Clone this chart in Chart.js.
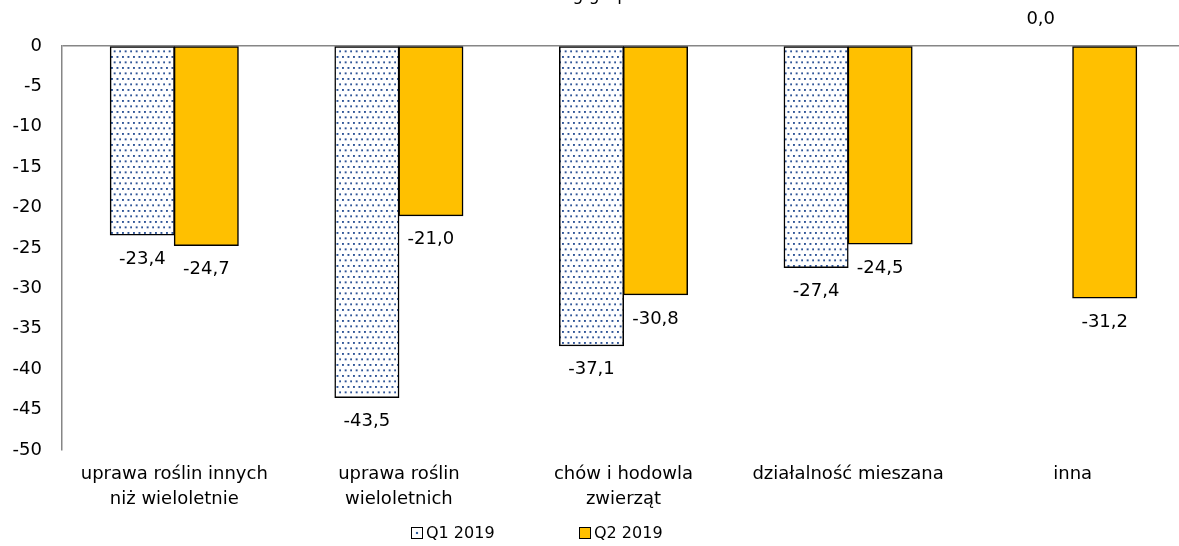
<!DOCTYPE html>
<html>
<head>
<meta charset="utf-8">
<script src="https://cdn.jsdelivr.net/npm/chart.js@4"></script>
<style>
  body { margin: 0; background: #fff; }
  #wrap { position: relative; width: 1179px; height: 546px; overflow: hidden; }
  .leg { position: absolute; top: 523px; font: 16px "DejaVu Sans", sans-serif; color: #000; display: flex; align-items: center; }
  .box { width: 10px; height: 10px; border: 1.5px solid #000; margin-right: 3px; }
  .q1 { background: #fff radial-gradient(circle, #2E5B9A 1.3px, transparent 1.6px); }
  .q2 { background: #FFC000; }
</style>
</head>
<body>
<div id="wrap">
  <canvas id="myChart" width="1185" height="546"></canvas>
  <div class="leg" style="left:411px"><span class="box q1"></span>Q1 2019</div>
  <div class="leg" style="left:579px"><span class="box q2"></span>Q2 2019</div>
</div>
<script>
const categories = [
    ['uprawa roślin innych', 'niż wieloletnie'],
    ['uprawa roślin', 'wieloletnich'],
    ['chów i hodowla', 'zwierząt'],
    ['działalność mieszana'],
    ['inna']
];
const q1Values = [-23.4, -43.5, -37.1, -27.4, 0.0];
const q2Values = [-24.7, -21.0, -30.8, -24.5, -31.2];
const seriesNames = ['Q1 2019', 'Q2 2019'];
const titleText = 'według grup';

var ctx = document.getElementById('myChart').getContext('2d');

// dotted fill like the excel pattern
function dotPattern() {
    const c = document.createElement('canvas');
    c.width = 11;
    c.height = 11;
    const p = c.getContext('2d');
    p.fillStyle = '#ffffff';
    p.fillRect(0, 0, 11, 11);
    p.fillStyle = '#2F5597';
    [[1, 1], [6.5, 1], [3.7, 6.4], [9.2, 6.4]].forEach(d => {
        p.fillRect(d[0], d[1], 1.9, 1.9);
    });
    return ctx.createPattern(c, 'repeat');
}

function fmt(v) {
    return v.toFixed(1).replace('.', ',');
}

const valueLabels = {
    id: 'valueLabels',
    afterDatasetsDraw(chart) {
        const c = chart.ctx;
        c.save();
        c.font = '18px "DejaVu Sans"';
        c.fillStyle = '#000';
        c.textAlign = 'center';
        c.textBaseline = 'middle';
        chart.data.datasets.forEach((ds, i) => {
            chart.getDatasetMeta(i).data.forEach((bar, j) => {
                const v = ds.data[j];
                const y = v < 0 ? bar.y + 24 : bar.y - 27;
                c.fillText(fmt(v), bar.x, y);
            });
        });
        c.restore();
    }
};

// title is cut off at the top of the picture, only descenders show
const cutTitle = {
    id: 'cutTitle',
    afterDraw(chart) {
        const c = chart.ctx;
        c.save();
        c.font = '17px "DejaVu Sans"';
        c.fillStyle = '#000';
        c.textBaseline = 'alphabetic';
        const before = c.measureText('wedłu').width + c.measureText('g').width / 2;
        c.fillText(titleText, 578 - before, 0);
        c.restore();
    }
};

const noZero = (w) => (c) => c.raw === 0 ? 0 : w;

const chart = new Chart(ctx, {
    type: 'bar',
    data: {
        labels: categories,
        datasets: [{
            label: seriesNames[0],
            data: q1Values,
            backgroundColor: dotPattern(),
            borderColor: '#000',
            borderWidth: noZero(1.5),
            borderSkipped: false,
            inflateAmount: noZero(0.5)
        }, {
            label: seriesNames[1],
            data: q2Values,
            backgroundColor: '#FFC000',
            borderColor: '#000',
            borderWidth: noZero(1.5),
            borderSkipped: false,
            inflateAmount: noZero(0.5)
        }]
    },
    options: {
        responsive: false,
        animation: false,
        layout: { padding: { top: 46 } },
        categoryPercentage: 0.57,
        barPercentage: 1,
        plugins: {
            legend: { display: false },
            tooltip: { enabled: false }
        },
        scales: {
            x: {
                grid: { display: false },
                border: { display: false },
                ticks: {
                    color: '#000',
                    padding: 4,
                    maxRotation: 0,
                    font: { family: 'DejaVu Sans', size: 18, lineHeight: 1.4 }
                },
                afterFit: (s) => { s.height = 96; }
            },
            y: {
                min: -50,
                max: 0,
                ticks: {
                    stepSize: 5,
                    color: '#000',
                    padding: 20,
                    font: { family: 'DejaVu Sans', size: 18 }
                },
                grid: {
                    drawTicks: false,
                    color: (c) => c.tick && c.tick.value === 0 ? '#868686' : 'rgba(0,0,0,0)',
                    lineWidth: 1.5
                },
                border: { display: true, color: '#868686', width: 1.5 },
                afterFit: (s) => { s.width = 62; }
            }
        }
    },
    plugins: [valueLabels, cutTitle]
});
</script>
</body>
</html>
